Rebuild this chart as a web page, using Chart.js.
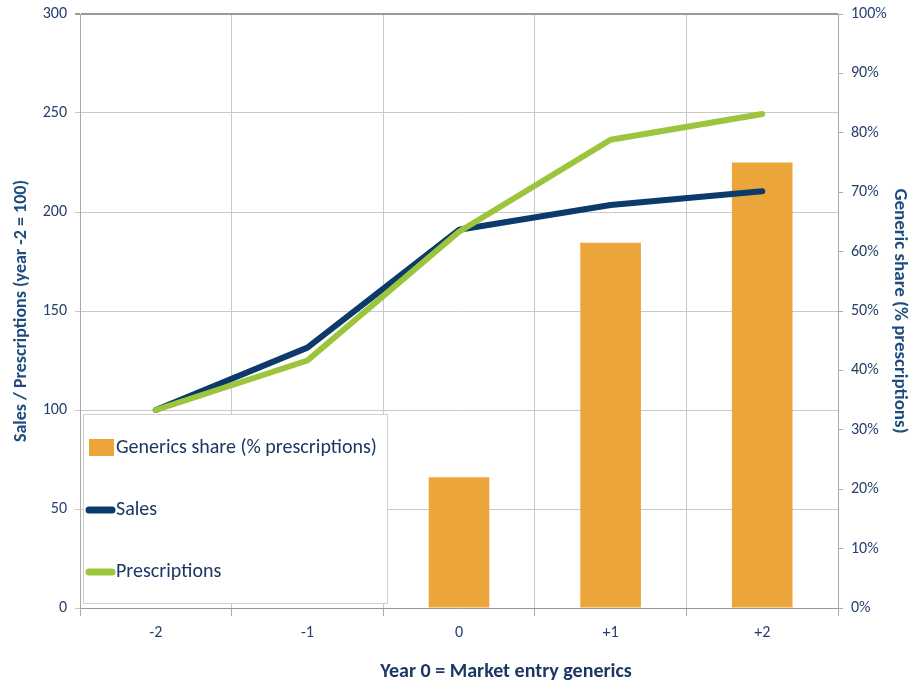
<!DOCTYPE html>
<html>
<head>
<meta charset="utf-8">
<script src="https://cdn.jsdelivr.net/npm/chart.js@4.4.0/dist/chart.umd.min.js"></script>
<style>
  body { margin: 0; background: #fff; }
  #wrap { width: 916px; height: 686px; }
</style>
</head>
<body>
<div id="wrap"><canvas id="myChart" width="916" height="686"></canvas></div>
<script>
// data
const years = ['-2', '-1', '0', '+1', '+2'];
const sales = [100, 131.5, 191, 203.5, 210.5];
const prescriptions = [100, 125, 190, 236.5, 249.5];
const genericShare = [null, null, 22, 61.5, 75];

const FONT = "'Carlito', 'Liberation Sans Narrow', 'Open Sans', sans-serif";
const NAVY = '#0b3a6b';
const GREEN = '#9cc53d';
const ORANGE = '#eba53b';
const TEXT = '#243f6c';
const TITLE = '#1e4d7d';
const GRID = '#c9c9c9';

// legend box drawn on top of the plot, plus the x axis title (it sits right of centre)
const boxLegend = {
    id: 'boxLegend',
    afterDatasetsDraw(chart) {
        const ctx = chart.ctx;
        ctx.save();
        ctx.fillStyle = '#fff';
        ctx.fillRect(83, 414, 304, 189);
        ctx.strokeStyle = '#d0d0d0';
        ctx.lineWidth = 1;
        ctx.strokeRect(83.5, 414.5, 304, 189);

        ctx.fillStyle = ORANGE;
        ctx.fillRect(89, 439, 25, 17);

        ctx.lineCap = 'round';
        ctx.lineWidth = 7;
        ctx.strokeStyle = NAVY;
        ctx.beginPath(); ctx.moveTo(89, 510); ctx.lineTo(112, 510); ctx.stroke();
        ctx.strokeStyle = GREEN;
        ctx.beginPath(); ctx.moveTo(89, 572); ctx.lineTo(112, 572); ctx.stroke();

        ctx.fillStyle = '#1b3763';
        ctx.font = '20px ' + FONT;
        ctx.textBaseline = 'middle';
        ctx.fillText('Generics share (% prescriptions)', 116, 448);
        ctx.fillText('Sales', 116, 510);
        ctx.fillText('Prescriptions', 116, 572);

        ctx.font = 'bold 20px ' + FONT;
        ctx.textAlign = 'center';
        ctx.fillStyle = '#1b3763';
        ctx.fillText('Year 0 = Market entry generics', 506, 672);
        ctx.restore();
    }
};

// y axes: no extra room for the top label, so the plot starts where the padding says
function fitY(width) {
    return function (scale) {
        scale.width = width;
        scale.paddingTop = 0;
        scale.paddingBottom = 0;
    };
}

const ctx = document.getElementById('myChart').getContext('2d');
const myChart = new Chart(ctx, {
    type: 'bar',
    data: {
        labels: years,
        datasets: [{
            type: 'line',
            label: 'Prescriptions',
            data: prescriptions,
            yAxisID: 'y',
            borderColor: GREEN,
            borderWidth: 6,
            borderCapStyle: 'round',
            borderJoinStyle: 'round',
            pointRadius: 0,
            tension: 0,
            order: 1
        }, {
            type: 'line',
            label: 'Sales',
            data: sales,
            yAxisID: 'y',
            borderColor: NAVY,
            borderWidth: 6,
            borderCapStyle: 'round',
            borderJoinStyle: 'round',
            pointRadius: 0,
            tension: 0,
            order: 2
        }, {
            label: 'Generics share (% prescriptions)',
            data: genericShare,
            yAxisID: 'y1',
            backgroundColor: ORANGE,
            barPercentage: 0.4,
            categoryPercentage: 1,
            order: 3
        }]
    },
    options: {
        responsive: false,
        animation: false,
        layout: { padding: { top: 14, left: 0, right: 0, bottom: 0 } },
        plugins: {
            legend: { display: false },
            tooltip: { enabled: false }
        },
        scales: {
            x: {
                offset: true,
                grid: { offset: true, color: GRID, tickLength: 8, tickColor: '#aaa' },
                border: { color: '#999', width: 1 },
                ticks: { color: TEXT, font: { family: FONT, size: 16 }, padding: 7 },
                afterFit: function (scale) { scale.height = 78; }
            },
            y: {
                position: 'left',
                min: 0, max: 300,
                ticks: { stepSize: 50, color: TEXT, font: { family: FONT, size: 16 }, padding: 8 },
                grid: {
                    color: function (c) { return c.tick && c.tick.value === 300 ? '#9a9a9a' : GRID; },
                    lineWidth: function (c) { return c.tick && c.tick.value === 300 ? 2 : 1; },
                    tickLength: 5
                },
                border: { color: '#aaa' },
                title: {
                    display: true, text: 'Sales / Prescriptions (year -2 = 100)', color: TITLE,
                    font: { family: FONT, size: 18, weight: 'bold' }, padding: { top: 11, bottom: 0 }
                },
                afterFit: fitY(80)
            },
            y1: {
                position: 'right',
                min: 0, max: 100,
                ticks: {
                    stepSize: 10, color: TEXT, font: { family: FONT, size: 16 }, padding: 8,
                    callback: function (v) { return v + '%'; }
                },
                grid: { drawOnChartArea: false, tickLength: 5, color: '#aaa' },
                border: { color: '#aaa' },
                title: {
                    display: true, text: 'Generic share (% prescriptions)', color: TITLE,
                    font: { family: FONT, size: 19, weight: 'bold' }, padding: { top: 5, bottom: 0 }
                },
                afterFit: fitY(78)
            }
        }
    },
    plugins: [boxLegend]
});
</script>
</body>
</html>
